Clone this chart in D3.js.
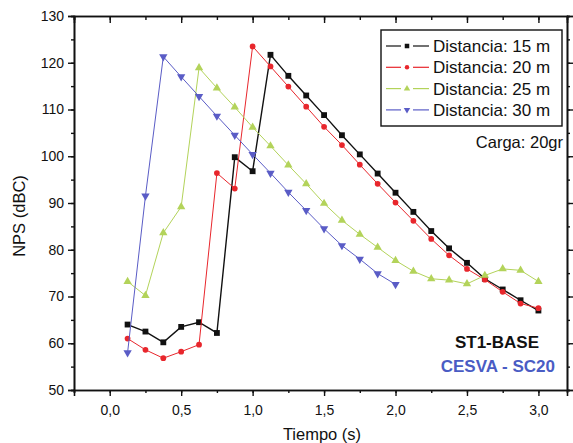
<!DOCTYPE html>
<html>
<head>
<meta charset="utf-8">
<script src="https://cdn.jsdelivr.net/npm/d3@7"></script>
<style>
  body { margin: 0; background: #fff; }
  text { font-family: "Liberation Sans", Arial, sans-serif; }
</style>
</head>
<body>
<script>
// time axis (s)
const tiempo = [0.125, 0.25, 0.375, 0.5, 0.625, 0.75, 0.875, 1.0, 1.125, 1.25, 1.375, 1.5,
                1.625, 1.75, 1.875, 2.0, 2.125, 2.25, 2.375, 2.5, 2.625, 2.75, 2.875, 3.0];

// NPS (dBC) per distance
const nps15 = [64.0, 62.5, 60.2, 63.5, 64.5, 62.2, 99.8, 96.8, 121.7, 117.2, 113.0, 108.8,
               104.5, 100.4, 96.3, 92.2, 88.1, 84.0, 80.3, 77.2, 73.8, 71.5, 69.2, 67.0];
const nps20 = [61.0, 58.6, 56.8, 58.2, 59.7, 96.4, 93.1, 123.5, 119.2, 114.9, 110.6, 106.3,
               102.4, 98.2, 94.1, 90.1, 86.2, 82.3, 78.8, 75.9, 73.6, 71.0, 68.5, 67.5];
const nps25 = [73.2, 70.2, 83.6, 89.2, 118.9, 114.6, 110.5, 106.2, 102.2, 98.1, 94.1, 89.9,
               86.3, 83.3, 80.5, 77.7, 75.4, 73.8, 73.5, 72.7, 74.5, 75.9, 75.6, 73.2];
const nps30 = [58.0, 91.5, 121.3, 117.0, 112.8, 108.6, 104.5, 100.4, 96.4, 92.3, 88.4, 84.5,
               80.9, 78.0, 74.9, 72.6];

const seriesNames = ["Distancia: 15 m", "Distancia: 20 m", "Distancia: 25 m", "Distancia: 30 m"];
const seriesValues = [nps15, nps20, nps25, nps30];

const xTicks = [0, 0.5, 1.0, 1.5, 2.0, 2.5, 3.0];
const yTicks = [50, 60, 70, 80, 90, 100, 110, 120, 130];

const colors = ["#111111", "#e8262c", "#b3d35a", "#5a5cc6"];
const symbols = [d3.symbolSquare, d3.symbolCircle, d3.symbolTriangle, d3.symbolTriangle];
const symSizes = [34, 26, 30, 30];
const lineW = [1.4, 1, 1, 1];

const outerWidth = 573, outerHeight = 443;
const margin = {top: 16, right: 6, bottom: 53, left: 74};
const width = outerWidth - margin.left - margin.right;
const height = outerHeight - margin.top - margin.bottom;

const svg = d3.select("body").append("svg")
    .attr("width", outerWidth)
    .attr("height", outerHeight);

const g = svg.append("g")
    .attr("transform", "translate(" + margin.left + "," + margin.top + ")");

const xScale = d3.scaleLinear().domain([-0.25, 3.2]).range([0, width]);
const yScale = d3.scaleLinear().domain([50, 130]).range([height, 0]);

const fmt = d => d3.format(".1f")(d).replace(".", ",");
const minorX = d3.range(-0.25, 3.21, 0.25);
const minorY = d3.range(50, 131, 5);

// bottom axis: outward ticks
const xAxis = g.append("g").attr("transform", "translate(0," + height + ")");
xAxis.call(d3.axisBottom(xScale).tickValues(minorX).tickSize(3).tickFormat(""));
xAxis.append("g").call(d3.axisBottom(xScale).tickValues(xTicks).tickSize(6).tickFormat(fmt));

// left axis
const yAxis = g.append("g");
yAxis.call(d3.axisLeft(yScale).tickValues(minorY).tickSize(3).tickFormat(""));
yAxis.append("g").call(d3.axisLeft(yScale).tickValues(yTicks).tickSize(6).tickFormat(d3.format("d")));

// top axis: inward ticks
const topAxis = g.append("g");
topAxis.call(d3.axisTop(xScale).tickValues(minorX).tickSize(-4).tickFormat(""));
topAxis.append("g").call(d3.axisTop(xScale).tickValues(xTicks).tickSize(-7).tickFormat(""));

// right axis: outward ticks
const rightAxis = g.append("g").attr("transform", "translate(" + width + ",0)");
rightAxis.call(d3.axisRight(yScale).tickValues(minorY).tickSize(3).tickFormat(""));
rightAxis.append("g").call(d3.axisRight(yScale).tickValues(yTicks).tickSize(6).tickFormat(""));

g.selectAll(".domain").attr("stroke", "#111").attr("stroke-width", 1.6);
g.selectAll(".tick line").attr("stroke", "#111").attr("stroke-width", 1.4);
g.selectAll(".tick text")
    .attr("fill", "#111")
    .style("font-size", "14px")
    .style("font-family", "'Liberation Sans', Arial, sans-serif");
xAxis.selectAll(".tick text").attr("dy", "1.15em");
yAxis.selectAll(".tick text").attr("dx", "-1px");

// series
const line = d3.line()
    .x((d, i) => xScale(tiempo[i]))
    .y(d => yScale(d));

seriesValues.forEach((vals, k) => {
    g.append("path")
        .datum(vals)
        .attr("fill", "none")
        .attr("stroke", colors[k])
        .attr("stroke-width", lineW[k])
        .attr("d", line);

    g.selectAll(".pt" + k)
        .data(vals)
        .join("path")
        .attr("class", "pt" + k)
        .attr("d", d3.symbol().type(symbols[k]).size(symSizes[k]))
        .attr("fill", colors[k])
        .attr("transform", (d, i) => "translate(" + xScale(tiempo[i]) + "," + yScale(d) + ")" + (k === 3 ? " rotate(180)" : ""));
});

// legend
const legend = svg.append("g");
legend.append("rect")
    .attr("x", 381).attr("y", 30)
    .attr("width", 181).attr("height", 96)
    .attr("fill", "#fff")
    .attr("stroke", "#111")
    .attr("stroke-width", 1.4);

seriesNames.forEach((name, k) => {
    const yy = 46 + k * 21.3;
    [[386, 401], [413, 429]].forEach(seg => {
        legend.append("line")
            .attr("x1", seg[0]).attr("x2", seg[1])
            .attr("y1", yy).attr("y2", yy)
            .attr("stroke", colors[k])
            .attr("stroke-width", 1.2);
    });
    legend.append("path")
        .attr("d", d3.symbol().type(symbols[k]).size(symSizes[k] * 0.6))
        .attr("fill", colors[k])
        .attr("transform", "translate(407," + yy + ")" + (k === 3 ? " rotate(180)" : ""));
    legend.append("text")
        .attr("x", 433).attr("y", yy + 6)
        .attr("fill", "#111")
        .style("font-size", "17px")
        .text(name);
});

svg.append("text")
    .attr("x", 563).attr("y", 148)
    .attr("text-anchor", "end")
    .attr("fill", "#111")
    .style("font-size", "16.5px")
    .text("Carga: 20gr");

svg.append("text")
    .attr("x", 539).attr("y", 348)
    .attr("text-anchor", "end")
    .attr("fill", "#111")
    .style("font-size", "17px")
    .style("font-weight", "bold")
    .text("ST1-BASE");

svg.append("text")
    .attr("x", 555).attr("y", 372)
    .attr("text-anchor", "end")
    .attr("fill", "#4a5cc4")
    .style("font-size", "17px")
    .style("font-weight", "bold")
    .text("CESVA - SC20");

// axis titles
svg.append("text")
    .attr("x", 322).attr("y", 440)
    .attr("text-anchor", "middle")
    .attr("fill", "#111")
    .style("font-size", "16.5px")
    .text("Tiempo (s)");

svg.append("text")
    .attr("transform", "translate(25,216) rotate(-90)")
    .attr("text-anchor", "middle")
    .attr("fill", "#111")
    .style("font-size", "16.5px")
    .text("NPS (dBC)");
</script>
</body>
</html>
